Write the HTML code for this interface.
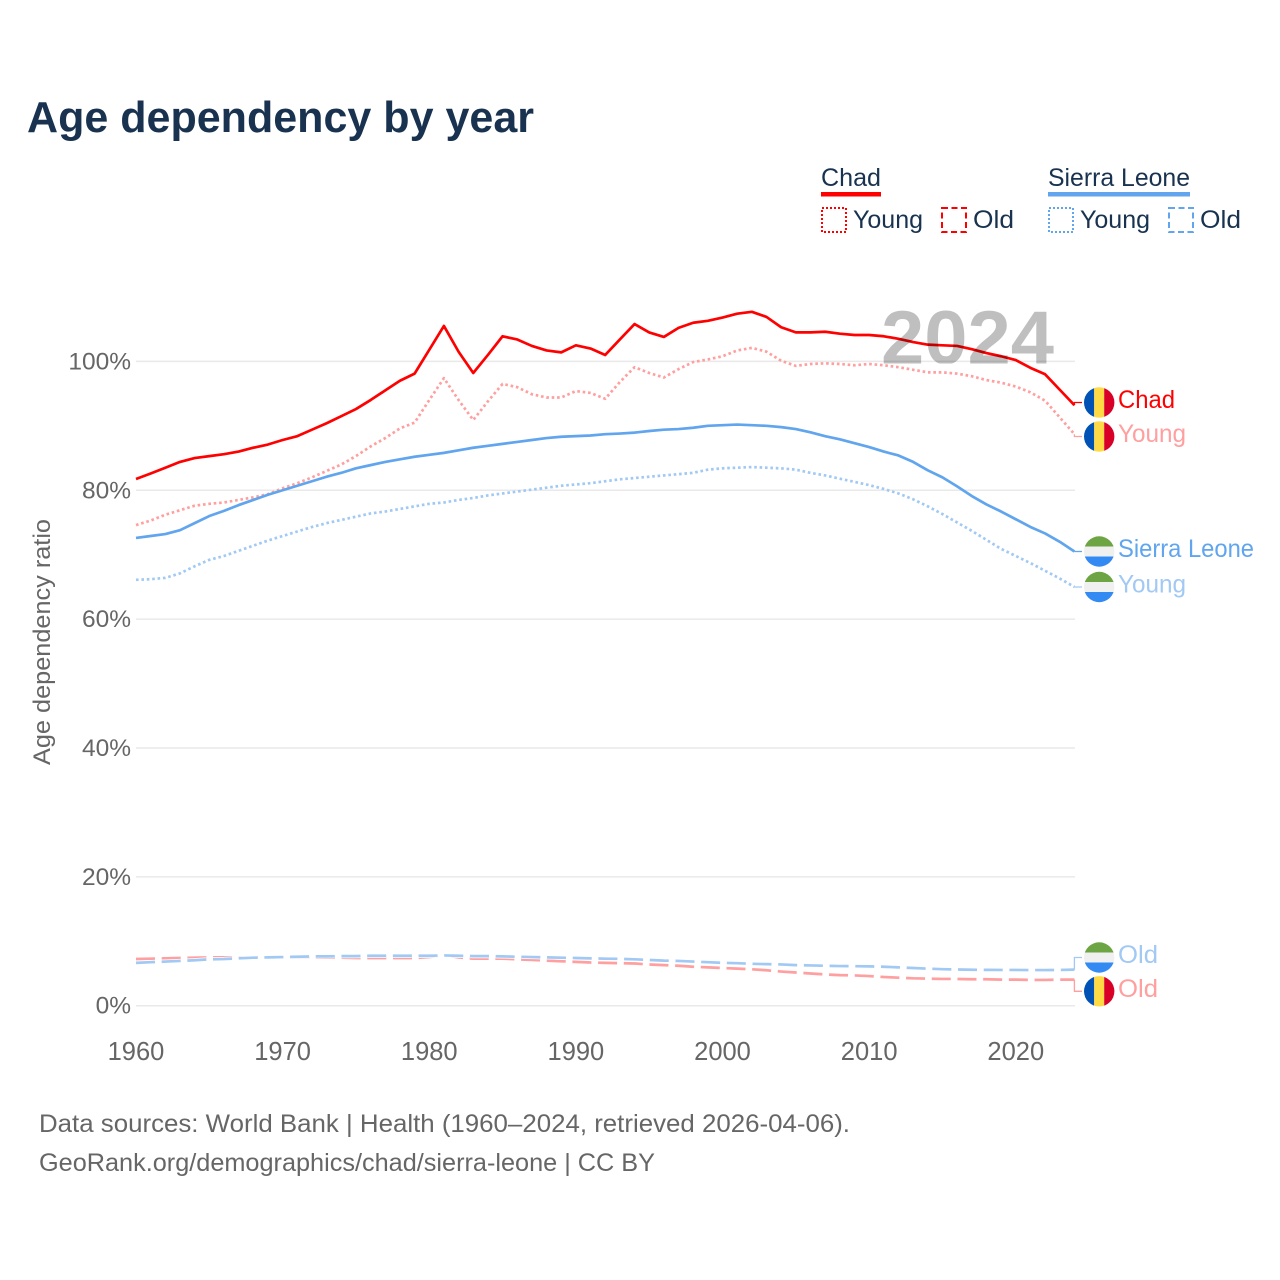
<!DOCTYPE html>
<html lang="en">
<head>
<meta charset="utf-8">
<title>Age dependency by year</title>
<style>
html,body{margin:0;padding:0;background:#fff;}
svg{display:block;font-family:"Liberation Sans",sans-serif;}
.dark{fill:#18324f;}
.grey{fill:#666;}
</style>
</head>
<body>
<svg id="chart" xmlns="http://www.w3.org/2000/svg" width="1280" height="1280" viewBox="0 0 1280 1280">
  <defs>
    <clipPath id="flag-clip"><circle cx="0" cy="0" r="15.2"></circle></clipPath>
    <clipPath id="watermark-clip"><rect x="860" y="290" width="220" height="73.5"></rect></clipPath>
  </defs>
  <rect width="1280" height="1280" fill="#fff"></rect>
  <text class="dark" x="27" y="132" font-size="44" font-weight="700" textLength="507" lengthAdjust="spacingAndGlyphs">Age dependency by year</text>

  <g>
    <text class="dark" x="821" y="186" font-size="25" textLength="60" lengthAdjust="spacingAndGlyphs">Chad</text>
    <rect x="821" y="192" width="60" height="4.5" fill="#ff0000"></rect>
    <rect x="822" y="208" width="24" height="24" fill="none" stroke="#ff0000" stroke-width="2" stroke-dasharray="2 2"></rect>
    <text class="dark" x="853" y="228" font-size="25" textLength="70" lengthAdjust="spacingAndGlyphs">Young</text>
    <rect x="942" y="208" width="24" height="24" fill="none" stroke="#ff0000" stroke-width="2" stroke-dasharray="6 3.5"></rect>
    <text class="dark" x="973" y="228" font-size="25" textLength="41" lengthAdjust="spacingAndGlyphs">Old</text>
    <text class="dark" x="1048" y="186" font-size="25" textLength="142" lengthAdjust="spacingAndGlyphs">Sierra Leone</text>
    <rect x="1048" y="192" width="142" height="4.5" fill="#60a5ee"></rect>
    <rect x="1049" y="208" width="24" height="24" fill="none" stroke="#60a5ee" stroke-width="2" stroke-dasharray="2 2"></rect>
    <text class="dark" x="1080" y="228" font-size="25" textLength="70" lengthAdjust="spacingAndGlyphs">Young</text>
    <rect x="1169" y="208" width="24" height="24" fill="none" stroke="#60a5ee" stroke-width="2" stroke-dasharray="6 3.5"></rect>
    <text class="dark" x="1200" y="228" font-size="25" textLength="41" lengthAdjust="spacingAndGlyphs">Old</text>
  </g>

  <g id="grid"></g>
  <g id="yticks"></g>
  <g id="xticks"></g>
  <text class="grey" transform="translate(50,642) rotate(-90)" text-anchor="middle" font-size="24.5" textLength="246" lengthAdjust="spacingAndGlyphs">Age dependency ratio</text>
  <g id="series"></g>
  <g clip-path="url(#watermark-clip)">
    <text x="881" y="364" font-size="76" font-weight="700" fill="#000" fill-opacity="0.25" textLength="173" lengthAdjust="spacingAndGlyphs">2024</text>
  </g>
  <g id="labels"></g>

  <text class="grey" x="39" y="1132" font-size="25" textLength="811" lengthAdjust="spacingAndGlyphs">Data sources: World Bank | Health (1960–2024, retrieved 2026-04-06).</text>
  <text class="grey" x="39" y="1171" font-size="25" textLength="616" lengthAdjust="spacingAndGlyphs">GeoRank.org/demographics/chad/sierra-leone | CC BY</text>
</svg>
<script>
var startYear = 1960;
var yTickValues = [0, 20, 40, 60, 80, 100];
var xTickValues = [1960, 1970, 1980, 1990, 2000, 2010, 2020];

var chadTotal = [81.75,82.6,83.5,84.4,85.0,85.3,85.6,86.0,86.6,87.1,87.8,88.4,89.4,90.4,91.5,92.6,94.0,95.5,97.0,98.1,101.8,105.5,101.5,98.2,101.0,103.9,103.4,102.4,101.7,101.4,102.5,102.0,101.0,103.4,105.8,104.5,103.8,105.2,106.0,106.3,106.8,107.4,107.7,106.9,105.3,104.5,104.5,104.6,104.3,104.1,104.1,103.9,103.5,103.0,102.6,102.5,102.4,101.9,101.3,100.8,100.2,99.0,98.0,95.6,93.2];
var chadYoung = [74.6,75.3,76.2,76.9,77.6,77.9,78.1,78.5,78.9,79.4,80.3,81.1,82.0,83.0,84.0,85.3,86.8,88.1,89.6,90.5,94.0,97.4,94.0,90.9,93.8,96.5,96.0,94.9,94.4,94.4,95.4,95.1,94.2,96.8,99.1,98.2,97.5,98.8,99.9,100.3,100.8,101.7,102.1,101.5,100.1,99.3,99.6,99.7,99.6,99.4,99.6,99.4,99.1,98.7,98.3,98.3,98.1,97.7,97.1,96.7,96.1,95.2,93.9,91.3,88.7];
var chadOld = [7.25,7.3,7.35,7.4,7.45,7.5,7.5,7.5,7.5,7.5,7.5,7.5,7.5,7.45,7.45,7.4,7.4,7.4,7.4,7.4,7.55,7.85,7.5,7.3,7.3,7.3,7.2,7.1,7.0,6.9,6.8,6.7,6.65,6.6,6.55,6.4,6.3,6.2,6.05,5.95,5.85,5.75,5.65,5.5,5.3,5.15,5.0,4.85,4.75,4.7,4.6,4.45,4.35,4.25,4.2,4.15,4.15,4.1,4.1,4.05,4.05,4.0,4.0,4.05,4.05];
var sierraTotal = [72.6,72.9,73.2,73.8,74.9,76.0,76.8,77.7,78.5,79.3,80.0,80.7,81.4,82.1,82.7,83.4,83.9,84.4,84.8,85.2,85.5,85.8,86.2,86.6,86.9,87.2,87.5,87.8,88.1,88.3,88.4,88.5,88.7,88.8,88.95,89.2,89.4,89.5,89.7,90.0,90.1,90.2,90.1,90.0,89.8,89.5,89.0,88.4,87.9,87.3,86.7,86.0,85.4,84.4,83.1,82.0,80.6,79.1,77.8,76.7,75.5,74.3,73.3,72.0,70.5];
var sierraYoung = [66.1,66.2,66.4,67.1,68.2,69.2,69.8,70.6,71.4,72.2,72.9,73.6,74.3,74.9,75.4,75.9,76.4,76.7,77.1,77.5,77.9,78.1,78.5,78.8,79.2,79.5,79.8,80.1,80.4,80.7,80.9,81.1,81.4,81.7,81.9,82.1,82.3,82.5,82.7,83.2,83.4,83.5,83.6,83.5,83.4,83.2,82.7,82.3,81.8,81.3,80.8,80.2,79.5,78.6,77.5,76.3,75.0,73.7,72.3,70.9,69.8,68.7,67.5,66.3,65.0];
var sierraOld = [6.65,6.75,6.85,6.95,7.05,7.2,7.25,7.35,7.45,7.5,7.55,7.6,7.65,7.65,7.7,7.7,7.75,7.75,7.75,7.75,7.75,7.8,7.75,7.7,7.7,7.65,7.6,7.55,7.5,7.45,7.4,7.35,7.3,7.27,7.2,7.1,7.0,6.95,6.85,6.75,6.65,6.6,6.5,6.45,6.4,6.3,6.25,6.2,6.15,6.13,6.1,6.05,5.95,5.85,5.75,5.67,5.62,5.58,5.56,5.55,5.55,5.53,5.53,5.55,5.6];

function xScale(year) { return 136 + (year - 1960) * 14.663; }
function yScale(value) { return 1005.7 - value * 6.443; }

var NS = 'http://www.w3.org/2000/svg';
function make(tag, parent, attrs, text) {
  var el = document.createElementNS(NS, tag);
  for (var key in attrs) { el.setAttribute(key, attrs[key]); }
  if (text !== undefined) { el.textContent = text; }
  parent.appendChild(el);
  return el;
}

var gridGroup = document.getElementById('grid');
var yTickGroup = document.getElementById('yticks');
var xTickGroup = document.getElementById('xticks');
var seriesGroup = document.getElementById('series');
var labelGroup = document.getElementById('labels');

yTickValues.forEach(function (v) {
  var line = make('line', gridGroup, {x1: 136, x2: 1075, y1: yScale(v), y2: yScale(v), stroke: '#e9e9e9', 'stroke-width': 1.5});
  
  
  var label = make('text', yTickGroup, {x: 131, y: yScale(v) + 8, 'text-anchor': 'end', 'font-size': 24.5, 'class': 'grey'}, v + '%');
  
  
});

xTickValues.forEach(function (year) {
  var label = make('text', xTickGroup, {x: xScale(year), y: 1060, 'text-anchor': 'middle', 'font-size': 25.5, 'class': 'grey'}, String(year));
  
  
});

function linePath(values) {
  return values.map(function (v, i) {
    return (i ? 'L' : 'M') + xScale(startYear + i).toFixed(2) + ' ' + yScale(v).toFixed(2);
  }).join(' ');
}

function drawSeries(values, color, width, dash, halo) {
  var d = linePath(values);
  if (halo) {
    var under = make('path', seriesGroup, {d: d, fill: 'none', stroke: '#fff', 'stroke-width': width + 1.5, 'stroke-dasharray': dash});
    
    
  }
  var path = make('path', seriesGroup, {d: d, fill: 'none', stroke: color, 'stroke-width': width, 'stroke-linejoin': 'round'});
  if (dash) { path.setAttribute('stroke-dasharray', dash); }
  
  
}

var RED = '#ff0000', BLUE = '#60a5ee', PALE_RED = '#ff9f9f', PALE_BLUE = '#a1c9f4';
drawSeries(chadOld, PALE_RED, 2.7, '19 6.7', true);
drawSeries(sierraOld, PALE_BLUE, 2.7, '19 6.7', true);
drawSeries(sierraYoung, PALE_BLUE, 2.7, '2.6 2.8', false);
drawSeries(chadYoung, PALE_RED, 2.7, '2.6 2.8', false);
drawSeries(sierraTotal, BLUE, 2.7, '', false);
drawSeries(chadTotal, RED, 2.7, '', false);

function drawFlag(kind, cy) {
  var g = make('g', labelGroup, {transform: 'translate(1099.2,' + cy + ')', 'clip-path': 'url(#flag-clip)'});
  
  
  if (kind === 'chad') {
    make('rect', g, {x: -16, y: -16, width: 11, height: 32, fill: '#0052b4'});
    make('rect', g, {x: -5, y: -16, width: 10, height: 32, fill: '#ffda44'});
    make('rect', g, {x: 5, y: -16, width: 11, height: 32, fill: '#d80027'});
  } else {
    make('rect', g, {x: -16, y: -16, width: 32, height: 11, fill: '#6da544'});
    make('rect', g, {x: -16, y: -5, width: 32, height: 10, fill: '#f0f0f0'});
    make('rect', g, {x: -16, y: 5, width: 32, height: 11, fill: '#338af3'});
  }
}

function drawEndLabel(values, kind, text, color, labelY, textWidth) {
  var lastX = xScale(startYear + values.length - 1);
  var lastY = yScale(values[values.length - 1]);
  var connector = make('path', labelGroup, {d: 'M' + lastX.toFixed(1) + ' ' + lastY.toFixed(1) + ' V' + labelY + ' H1082', fill: 'none', stroke: color, 'stroke-width': 1.3});
  
  
  drawFlag(kind, labelY);
  var label = make('text', labelGroup, {x: 1118, y: labelY + 5.5, 'font-size': 25, fill: color, textLength: textWidth, lengthAdjust: 'spacingAndGlyphs'}, text);
  
  
}

drawEndLabel(chadTotal, 'chad', 'Chad', RED, 402.5, 57);
drawEndLabel(chadYoung, 'chad', 'Young', PALE_RED, 436.5, 68);
drawEndLabel(sierraTotal, 'sierra', 'Sierra Leone', BLUE, 551.5, 136);
drawEndLabel(sierraYoung, 'sierra', 'Young', PALE_BLUE, 587, 68);
drawEndLabel(sierraOld, 'sierra', 'Old', PALE_BLUE, 957.5, 40);
drawEndLabel(chadOld, 'chad', 'Old', PALE_RED, 991.3, 40);
</script>
</body>
</html>
